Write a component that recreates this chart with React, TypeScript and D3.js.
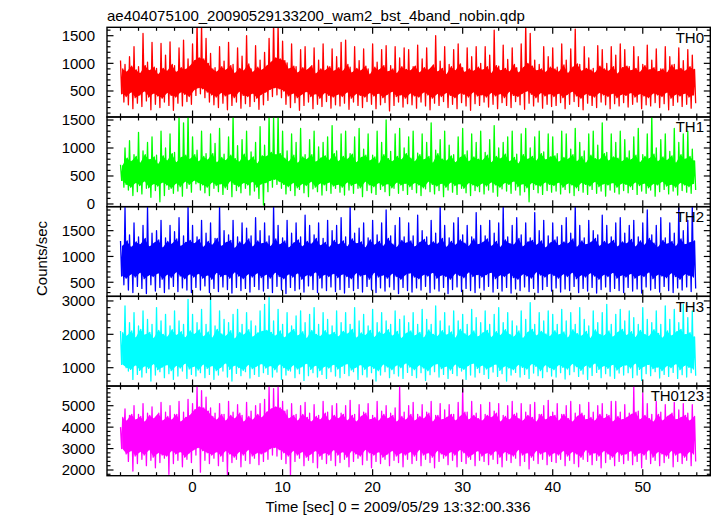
import React from "react";
import * as d3 from "d3";

const TITLE = "ae404075100_20090529133200_wam2_bst_4band_nobin.qdp";
const X_LABEL = "Time [sec] 0 = 2009/05/29 13:32:00.336";
const Y_LABEL = "Counts/sec";
const X_DOMAIN: [number, number] = [-9.5, 57.5];
const X_MAJOR = [0, 10, 20, 30, 40, 50];
const T0 = -8;
const DT = 0.5;

const panelNames = ["TH0", "TH1", "TH2", "TH3", "TH0123"];
const panelColors = ["#ff0000", "#00ff00", "#0000ff", "#00ffff", "#ff00ff"];
const panelDomains: [number, number][] = [[30, 1652], [-48, 1554], [227, 1965], [451, 3138], [1734, 5919]];
const panelTicks = [[500, 1000, 1500], [0, 500, 1000, 1500], [500, 1000, 1500], [1000, 2000, 3000], [2000, 3000, 4000, 5000]];
const panelMinor = [100, 100, 100, 200, 200];

// Each 0.5 s bin: upper excursion (hi), dip into band (midLo), rise in band (midHi), lower excursion (lo)

// TH0 (red)
const th0Hi = [
  1050, 980, 1120, 1300, 940, 1540, 1020, 1380, 910, 1360, 1150, 1390, 960, 1280, 1420, 1080,
  1350, 1750, 1700, 1450, 1180, 920, 1300, 1040, 1380, 980, 1280, 1130, 1500, 900, 1320, 1060,
  1200, 1450, 1750, 1700, 1400, 1010, 1350, 940, 1250, 1300, 880, 1280, 1060, 1350, 950, 1260,
  1120, 1380, 1420, 930, 1300, 1050, 1260, 900, 1350, 1020, 1250, 1320, 960, 1300, 1100, 1280,
  1250, 940, 1330, 1080, 1280, 900, 1500, 1040, 1300, 980, 1250, 1350, 920, 1280, 1120, 1300,
  1000, 1300, 1150, 1600, 950, 1330, 1070, 1280, 920, 1350, 1700, 1540, 1060, 980, 1300, 1120,
  1280, 930, 1350, 1060, 1260, 1620, 980, 1300, 1100, 910, 1320, 1250, 1000, 1300, 1150, 1350,
  1250, 940, 1300, 1120, 980, 1330, 1060, 1260, 900, 1300, 1120, 980, 1280, 1050, 1250, 1150,
];
const th0MidHi = [
  900, 850, 950, 880, 820, 960, 870, 930, 800, 910, 860, 980, 840, 920, 890, 950,
  1050, 1100, 1080, 1000, 900, 850, 940, 880, 960, 820, 910, 870, 990, 840, 930, 880,
  950, 1020, 1100, 1080, 1050, 900, 950, 830, 920, 880, 960, 810, 900, 870, 940, 860,
  920, 860, 980, 830, 910, 870, 950, 800, 930, 880, 960, 850, 900, 820, 940, 890,
  870, 950, 830, 920, 880, 970, 850, 910, 800, 940, 870, 990, 840, 900, 860, 930,
  880, 940, 820, 960, 870, 910, 850, 980, 830, 920, 1000, 950, 870, 900, 840, 930,
  900, 850, 970, 820, 930, 990, 860, 910, 880, 830, 950, 900, 860, 940, 810, 920,
  950, 870, 910, 840, 960, 880, 920, 850, 900, 830, 970, 880, 910, 860, 940, 890,
];
const th0MidLo = [
  450, 400, 480, 380, 430, 500, 390, 460, 410, 370, 470, 420, 390, 480, 440, 400,
  520, 560, 540, 480, 430, 390, 470, 410, 450, 380, 490, 420, 400, 460, 370, 440,
  480, 530, 560, 540, 500, 410, 460, 380, 440, 490, 400, 450, 370, 470, 420, 390,
  440, 400, 480, 370, 450, 420, 390, 470, 410, 460, 380, 440, 490, 400, 430, 370,
  460, 410, 390, 480, 430, 370, 450, 400, 470, 420, 380, 460, 440, 390, 480, 410,
  430, 390, 470, 410, 450, 380, 490, 420, 400, 460, 500, 440, 380, 470, 410, 450,
  400, 460, 380, 440, 490, 410, 370, 450, 420, 390, 470, 430, 400, 460, 380, 440,
  420, 470, 390, 450, 410, 380, 460, 430, 400, 480, 370, 440, 410, 460, 390, 430,
];
const th0Lo = [
  300, 250, 180, 280, 220, 320, 160, 260, 200, 300, 240, 150, 280, 230, 310, 260,
  420, 450, 380, 300, 250, 200, 280, 160, 240, 300, 190, 270, 220, 310, 170, 250,
  330, 400, 430, 380, 260, 200, 290, 150, 240, 300, 180, 260, 220, 310, 190, 250,
  230, 280, 170, 300, 240, 200, 310, 260, 180, 250, 290, 140, 240, 300, 210, 270,
  250, 190, 300, 230, 160, 280, 240, 310, 200, 260, 180, 290, 230, 150, 270, 240,
  300, 210, 260, 180, 290, 240, 200, 310, 250, 170, 280, 230, 300, 190, 260, 220,
  240, 290, 180, 260, 310, 220, 160, 280, 240, 200, 300, 250, 180, 270, 230, 290,
  210, 260, 300, 180, 250, 230, 290, 200, 270, 160, 240, 300, 220, 260, 190, 280,
];

// TH1 (green)
const th1Hi = [
  700, 1000, 1130, 880, 1280, 950, 1100, 1200, 870, 1300, 1000, 1250, 920, 1600, 1450, 1600,
  1200, 960, 1300, 900, 1250, 1080, 1350, 890, 1200, 1600, 1040, 1150, 1300, 930, 1100, 1380,
  1050, 1600, 1550, 1600, 1300, 950, 1250, 1100, 1350, 880, 1150, 1300, 1020, 1100, 1200, 1400,
  950, 1250, 1300, 900, 1200, 1350, 980, 1250, 870, 1300, 1100, 1500, 940, 1250, 1350, 1000,
  1200, 1300, 910, 1250, 1100, 1450, 960, 1150, 1300, 1050, 880, 1200, 1350, 950, 1250, 1100,
  1300, 920, 1150, 1400, 1000, 1100, 1200, 1300, 890, 1250, 1350, 1000, 1200, 1300, 930, 1250,
  1200, 900, 1300, 1250, 980, 1350, 1100, 950, 1250, 1300, 1050, 1450, 920, 1250, 1100, 1300,
  1150, 950, 1200, 1350, 880, 1250, 1600, 1000, 1150, 1250, 940, 1350, 1100, 1250, 1300, 980,
];
const th1MidHi = [
  680, 820, 760, 850, 730, 880, 790, 840, 710, 860, 770, 900, 740, 830, 870, 800,
  880, 760, 850, 790, 900, 740, 830, 780, 870, 810, 750, 890, 770, 840, 720, 860,
  850, 920, 880, 900, 820, 760, 870, 730, 840, 800, 880, 750, 820, 860, 780, 900,
  760, 850, 800, 890, 740, 830, 870, 770, 840, 720, 880, 810, 760, 850, 790, 900,
  820, 760, 880, 790, 850, 730, 900, 800, 770, 860, 740, 830, 880, 760, 840, 800,
  780, 870, 740, 850, 810, 890, 760, 830, 720, 880, 800, 850, 770, 900, 790, 840,
  860, 750, 830, 800, 880, 760, 850, 730, 870, 810, 790, 900, 770, 840, 820, 760,
  830, 790, 870, 740, 850, 810, 890, 760, 840, 780, 860, 730, 880, 800, 850, 770,
];
const th1MidLo = [
  420, 350, 300, 380, 330, 410, 290, 360, 320, 390, 340, 280, 370, 310, 400, 350,
  420, 380, 340, 300, 390, 330, 360, 290, 410, 350, 310, 380, 340, 400, 300, 360,
  380, 420, 440, 400, 350, 310, 380, 290, 360, 330, 400, 300, 370, 340, 390, 320,
  350, 300, 390, 330, 370, 290, 400, 340, 310, 380, 320, 360, 290, 390, 340, 370,
  310, 380, 340, 290, 400, 350, 320, 370, 300, 390, 330, 360, 280, 380, 340, 310,
  370, 320, 390, 340, 300, 380, 350, 410, 310, 360, 290, 380, 340, 320, 390, 350,
  330, 390, 300, 370, 340, 290, 380, 350, 320, 400, 310, 360, 340, 380, 300, 370,
  350, 310, 390, 330, 370, 290, 360, 340, 400, 320, 350, 300, 380, 340, 310, 370,
];
const th1Lo = [
  300, 250, 150, 220, 180, 280, 120, 240, 40, 150, 260, 190, 230, 140, 280, 210,
  360, 250, 200, 150, 280, 220, 170, 260, 130, 240, 200, 280, 160, 230, 100, -20,
  220, 300, 350, 280, 180, 240, 150, 260, 200, 130, 270, 220, 160, 240, 190, 280,
  210, 160, 250, 190, 280, 130, 240, 200, 170, 260, 220, 150, 280, 190, 240, 170,
  260, 200, 150, 270, 220, 180, 240, 130, 250, 210, 170, 280, 200, 150, 240, 220,
  180, 250, 210, 140, 270, 230, 190, 250, 160, 220, 40, 260, 200, 170, 240, 210,
  230, 180, 260, 200, 150, 240, 210, 170, 260, 190, 230, 140, 250, 210, 180, 240,
  200, 260, 170, 230, 190, 250, 140, 220, 260, 180, 230, 160, 240, 210, 190, 250,
];

// TH2 (blue)
const th2Hi = [
  1300, 1950, 1420, 1650, 1380, 1600, 1950, 1450, 1500, 1700, 1360, 1600, 1480, 1750, 1400, 1980,
  1600, 1380, 1700, 1450, 1650, 1350, 1980, 1500, 1420, 1700, 1380, 1650, 1550, 1400, 1750, 1500,
  1650, 1400, 1980, 1600, 1360, 1700, 1450, 1650, 1380, 1800, 1600, 1420, 1650, 1350, 1700, 1500,
  1600, 1750, 1380, 1980, 1450, 1550, 1650, 1360, 1700, 1420, 1650, 1900, 1400, 1600, 1750, 1380,
  1650, 1400, 1800, 1500, 1380, 1700, 1450, 1980, 1600, 1360, 1650, 1750, 1420, 1600, 1380, 1850,
  1600, 1400, 1700, 1450, 1650, 1980, 1380, 1600, 1750, 1420, 1650, 1360, 1850, 1500, 1700, 1400,
  1650, 1380, 1600, 1750, 1450, 1980, 1600, 1360, 1700, 1500, 1420, 1800, 1600, 1380, 1650, 1750,
  1450, 1600, 1700, 1380, 1650, 1900, 1420, 1600, 1750, 1360, 1650, 1450, 1980, 1500, 1700, 1980,
];
const th2MidHi = [
  1200, 1300, 1180, 1280, 1230, 1350, 1190, 1260, 1320, 1170, 1290, 1240, 1340, 1200, 1270, 1310,
  1250, 1330, 1180, 1290, 1220, 1350, 1200, 1270, 1310, 1160, 1280, 1230, 1340, 1190, 1300, 1250,
  1280, 1200, 1340, 1230, 1300, 1170, 1260, 1320, 1190, 1290, 1240, 1350, 1210, 1270, 1180, 1310,
  1230, 1300, 1190, 1340, 1250, 1280, 1170, 1320, 1220, 1290, 1200, 1350, 1240, 1180, 1310, 1260,
  1300, 1190, 1270, 1330, 1210, 1280, 1240, 1350, 1180, 1290, 1220, 1320, 1260, 1200, 1340, 1230,
  1270, 1340, 1200, 1290, 1180, 1320, 1250, 1230, 1350, 1190, 1280, 1310, 1220, 1300, 1170, 1260,
  1320, 1210, 1280, 1250, 1340, 1180, 1300, 1230, 1270, 1350, 1200, 1290, 1240, 1310, 1190, 1280,
  1250, 1330, 1190, 1300, 1220, 1350, 1260, 1180, 1310, 1240, 1290, 1200, 1340, 1230, 1270, 1300,
];
const th2MidLo = [
  620, 580, 660, 600, 690, 570, 640, 610, 680, 560, 650, 590, 700, 620, 570, 660,
  600, 670, 580, 640, 560, 690, 610, 650, 580, 700, 620, 570, 660, 600, 680, 590,
  650, 580, 690, 610, 570, 660, 600, 680, 560, 640, 620, 700, 580, 650, 610, 670,
  590, 660, 610, 570, 680, 620, 650, 560, 690, 600, 640, 580, 670, 610, 560, 650,
  680, 600, 570, 650, 620, 690, 580, 640, 610, 560, 670, 630, 590, 700, 610, 650,
  600, 650, 690, 570, 640, 610, 680, 590, 560, 660, 620, 580, 700, 640, 600, 670,
  630, 580, 660, 610, 690, 570, 640, 600, 680, 620, 560, 650, 610, 690, 580, 640,
  600, 670, 580, 640, 610, 700, 570, 650, 620, 590, 680, 610, 560, 660, 630, 600,
];
const th2Lo = [
  450, 350, 300, 420, 380, 280, 450, 330, 400, 300, 370, 420, 320, 390, 350, 300,
  400, 350, 430, 300, 380, 320, 410, 360, 290, 400, 340, 380, 310, 420, 360, 330,
  380, 300, 420, 350, 280, 400, 340, 370, 310, 430, 360, 300, 390, 340, 410, 320,
  360, 290, 400, 340, 380, 310, 420, 350, 300, 390, 330, 410, 360, 280, 400, 340,
  310, 390, 350, 420, 300, 370, 330, 400, 280, 360, 410, 320, 380, 340, 300, 390,
  350, 420, 310, 380, 330, 400, 290, 370, 340, 410, 320, 380, 300, 360, 420, 330,
  390, 310, 370, 340, 420, 300, 380, 330, 400, 290, 360, 410, 320, 380, 340, 300,
  400, 330, 370, 290, 410, 350, 380, 310, 420, 340, 300, 390, 350, 410, 320, 380,
];

// TH3 (cyan)
const th3Hi = [
  2100, 2850, 2350, 2650, 2250, 2700, 2450, 2300, 2800, 2400, 2600, 2250, 2700, 2400, 2300, 3050,
  2600, 2350, 2750, 2300, 3050, 2250, 2700, 2450, 2350, 2600, 2750, 2300, 2650, 2400, 2250, 2700,
  2900, 3100, 2400, 2750, 2300, 2650, 2250, 2550, 2700, 2350, 2600, 2800, 2300, 2650, 2450, 2250,
  2700, 2350, 2650, 2300, 2800, 2400, 2600, 2250, 2750, 2350, 2650, 2400, 2300, 2700, 2450, 2550,
  2350, 2650, 2300, 2750, 2450, 2300, 2850, 2400, 2650, 2250, 2700, 2400, 2600, 2300, 2750, 2500,
  2350, 2700, 2300, 2600, 2800, 2350, 2650, 2400, 2250, 2700, 2450, 2950, 2300, 2650, 2400, 2700,
  2600, 2300, 2750, 2400, 2650, 2300, 2800, 2450, 2250, 2700, 2350, 2650, 2900, 2300, 2600, 2750,
  2400, 2700, 2500, 2300, 2800, 2450, 2350, 2700, 2300, 2850, 2450, 2750, 2350, 2900, 2500, 2700,
];
const th3MidHi = [
  2050, 1950, 2100, 1900, 2150, 1980, 2060, 1880, 2120, 2000, 1920, 2140, 1970, 2080, 1900, 2100,
  2000, 2130, 1930, 2070, 1890, 2150, 2010, 1950, 2110, 1870, 2060, 1990, 2140, 1920, 2040, 2090,
  2120, 2060, 1950, 2100, 1900, 2030, 2150, 1960, 2080, 1880, 2120, 2000, 1940, 2110, 1980, 2060,
  1930, 2090, 2010, 2150, 1890, 2040, 1970, 2120, 1910, 2070, 2000, 2140, 1950, 2090, 1880, 2030,
  2100, 1960, 2060, 1900, 2130, 2000, 1940, 2110, 1980, 2070, 1890, 2150, 2020, 1950, 2100, 1930,
  2040, 2120, 1910, 2080, 1970, 2140, 2000, 1930, 2100, 1880, 2060, 2150, 1960, 2090, 2010, 1940,
  2110, 1990, 2070, 1900, 2140, 2020, 1950, 2090, 1880, 2130, 2000, 1960, 2100, 1920, 2060, 2150,
  1970, 2080, 1910, 2120, 2000, 1940, 2140, 2030, 1890, 2100, 1960, 2070, 2150, 1990, 2050, 1920,
];
const th3MidLo = [
  1100, 1000, 950, 1080, 920, 1050, 980, 1120, 940, 1020, 1090, 910, 1060, 990, 1130, 960,
  1040, 930, 1100, 980, 1060, 910, 1010, 1140, 950, 1070, 1000, 920, 1090, 970, 1050, 1120,
  990, 1060, 940, 1110, 1000, 920, 1080, 960, 1030, 1130, 950, 1070, 910, 1040, 990, 1100,
  960, 1050, 1120, 930, 1010, 1090, 950, 1060, 980, 910, 1100, 1020, 940, 1080, 1000, 1140,
  1020, 940, 1080, 990, 910, 1060, 1120, 970, 1040, 930, 1100, 1000, 950, 1070, 1130, 980,
  1070, 960, 1030, 1110, 920, 1050, 990, 940, 1090, 1010, 960, 1120, 1040, 910, 1080, 1000,
  940, 1090, 1010, 960, 1120, 1030, 920, 1070, 1000, 1140, 950, 1060, 980, 1100, 930, 1040,
  1080, 990, 1130, 950, 1040, 1100, 970, 1020, 910, 1060, 1000, 1120, 940, 1070, 1010, 960,
];
const th3Lo = [
  1100, 900, 650, 800, 720, 850, 600, 780, 880, 700, 820, 650, 750, 900, 680, 800,
  750, 850, 700, 800, 650, 780, 900, 720, 600, 830, 760, 880, 690, 800, 740, 850,
  800, 720, 870, 650, 780, 900, 700, 820, 620, 760, 850, 720, 800, 680, 880, 750,
  700, 830, 760, 880, 650, 790, 720, 850, 600, 780, 880, 700, 820, 750, 680, 860,
  770, 700, 850, 620, 790, 880, 720, 800, 680, 830, 760, 900, 650, 780, 720, 850,
  800, 680, 870, 740, 820, 600, 780, 860, 720, 800, 680, 840, 760, 700, 880, 750,
  720, 850, 660, 790, 880, 740, 810, 650, 770, 860, 700, 820, 750, 680, 840, 780,
  850, 700, 780, 620, 820, 760, 880, 690, 800, 740, 860, 680, 790, 720, 850, 760,
];

// TH0123 (magenta)
const th0123Hi = [
  4000, 4850, 4550, 5000, 4600, 5100, 4650, 4950, 4500, 5150, 4700, 5000, 4600, 5200, 4700, 5300,
  5100, 5900, 5700, 5400, 4900, 4650, 5100, 4600, 5200, 4700, 5050, 4550, 5150, 4750, 5000, 5100,
  5300, 5900, 5800, 5900, 5200, 4800, 5100, 4600, 5000, 5150, 4650, 5050, 4550, 5200, 4700, 5000,
  5100, 4650, 5000, 5250, 4600, 5050, 4700, 5100, 4550, 5200, 4750, 5000, 4650, 4900, 5900, 4700,
  5000, 5150, 4600, 5050, 4700, 5200, 4550, 5100, 4800, 5050, 4600, 5150, 5800, 4700, 5200, 4650,
  5050, 4600, 5150, 4750, 5100, 4550, 5000, 5200, 4650, 5100, 4700, 5050, 5150, 4600, 5000, 5250,
  4700, 5100, 4600, 5000, 5200, 4650, 5050, 4550, 5150, 4700, 5000, 5100, 4600, 5200, 5200, 4700,
  5050, 4650, 5900, 4750, 5600, 5100, 4600, 5200, 4700, 5050, 4550, 5150, 4800, 5100, 4650, 5050,
];
const th0123MidHi = [
  4450, 4300, 4600, 4350, 4500, 4250, 4550, 4400, 4650, 4300, 4500, 4350, 4600, 4250, 4450, 4550,
  4800, 4950, 4900, 4750, 4500, 4350, 4600, 4300, 4550, 4400, 4650, 4250, 4500, 4350, 4600, 4450,
  4700, 4850, 4950, 4900, 4750, 4400, 4550, 4300, 4600, 4450, 4250, 4500, 4350, 4650, 4300, 4550,
  4400, 4600, 4300, 4550, 4250, 4500, 4650, 4350, 4450, 4300, 4600, 4400, 4550, 4250, 4500, 4350,
  4600, 4300, 4500, 4400, 4650, 4250, 4550, 4350, 4450, 4600, 4300, 4500, 4700, 4350, 4550, 4400,
  4300, 4550, 4450, 4650, 4250, 4500, 4350, 4600, 4400, 4300, 4550, 4450, 4250, 4600, 4350, 4500,
  4550, 4300, 4600, 4400, 4250, 4500, 4650, 4350, 4450, 4300, 4600, 4400, 4550, 4250, 4500, 4350,
  4450, 4600, 4700, 4350, 4550, 4400, 4250, 4600, 4300, 4500, 4650, 4350, 4450, 4550, 4300, 4500,
];
const th0123MidLo = [
  3000, 2750, 2900, 2650, 2850, 2700, 2950, 2600, 2800, 2700, 2650, 2900, 2750, 2850, 2600, 2800,
  2950, 3050, 2900, 2800, 2700, 2850, 2650, 2900, 2750, 2600, 2850, 2700, 2950, 2650, 2800, 2750,
  2850, 3000, 3050, 2950, 2800, 2650, 2900, 2700, 2850, 2600, 2750, 2900, 2650, 2800, 2700, 2950,
  2700, 2850, 2600, 2900, 2750, 2650, 2950, 2800, 2700, 2850, 2600, 2750, 2900, 2650, 2800, 2700,
  2850, 2650, 2950, 2700, 2800, 2600, 2900, 2750, 2650, 2850, 2700, 2950, 2800, 2600, 2750, 2900,
  2650, 2800, 2700, 2900, 2600, 2850, 2750, 2650, 2950, 2700, 2800, 2600, 2900, 2750, 2850, 2650,
  2800, 2700, 2900, 2650, 2850, 2750, 2600, 2950, 2700, 2800, 2650, 2900, 2750, 2600, 2850, 2700,
  2750, 2900, 2650, 2800, 2700, 2950, 2600, 2850, 2750, 2650, 2900, 2700, 2800, 2600, 2850, 2750,
];
const th0123Lo = [
  3500, 2400, 1950, 2300, 2500, 2200, 2450, 2100, 2350, 2550, 1800, 2300, 2450, 2150, 2500, 2350,
  2700, 1900, 2450, 2300, 2550, 2200, 2400, 1750, 2350, 2500, 2150, 2450, 2300, 2550, 2250, 2400,
  2500, 2700, 2650, 2500, 2300, 1750, 2400, 2550, 2200, 2450, 2350, 2100, 2500, 2300, 2450, 2200,
  2350, 2500, 2150, 2400, 2550, 2250, 2450, 2100, 2400, 2300, 2500, 2200, 2450, 2350, 2150, 2500,
  2300, 2450, 2200, 2500, 2350, 2100, 2400, 2550, 2250, 2450, 2150, 2400, 2300, 2500, 2200, 2450,
  2400, 2250, 2500, 2300, 2150, 2450, 2350, 2550, 2200, 2400, 2050, 2450, 2300, 2500, 2250, 2400,
  2350, 2500, 2200, 2450, 2300, 2150, 2500, 2400, 2250, 2450, 2100, 2350, 2500, 2200, 2400, 2300,
  2450, 2250, 2400, 2100, 2500, 2300, 2450, 2200, 2350, 2550, 2150, 2400, 2300, 2450, 2200, 2400,
];

const seriesHi = [th0Hi, th1Hi, th2Hi, th3Hi, th0123Hi];
const seriesMidLo = [th0MidLo, th1MidLo, th2MidLo, th3MidLo, th0123MidLo];
const seriesMidHi = [th0MidHi, th1MidHi, th2MidHi, th3MidHi, th0123MidHi];
const seriesLo = [th0Lo, th1Lo, th2Lo, th3Lo, th0123Lo];

const W = 717;
const H = 516;
const LEFT = 107;
const RIGHT = 710.3;
const TOP = 27.3;
const BOTTOM = 475.7;
const FONT = "'Liberation Sans', Arial, Helvetica, sans-serif";

export default function App() {
  const x = d3.scaleLinear().domain(X_DOMAIN).range([LEFT, RIGHT]);
  const ph = (BOTTOM - TOP) / 5;
  const xMinor = d3.range(-8, 57, 2).filter((t) => t % 10 !== 0);

  return (
    <svg width={W} height={H} style={{ position: "absolute", left: 0, top: 0, background: "#fff" }} fontFamily={FONT}>
      <rect x={0} y={0} width={W} height={H} fill="#fff" />
      <text x={107} y={20.5} fontSize={15} fill="#000">{TITLE}</text>
      {panelNames.map((name, p) => {
        const top = TOP + p * ph;
        const bot = top + ph;
        const [d0, d1] = panelDomains[p];
        const y = d3.scaleLinear().domain([d0, d1]).range([bot, top]);
        const hi = seriesHi[p];
        const mLo = seriesMidLo[p];
        const mHi = seriesMidHi[p];
        const lo = seriesLo[p];
        const pts: [number, number][] = [];
        hi.forEach((v, i) => {
          const t = T0 + DT * i;
          pts.push([t, v]);
          pts.push([t + DT * 0.25, mLo[i]]);
          pts.push([t + DT * 0.5, mHi[i]]);
          pts.push([t + DT * 0.75, lo[i]]);
        });
        const line = d3.line<[number, number]>().x((d) => x(d[0])).y((d) => y(d[1]));
        const idx = d3.range(hi.length);
        const band = d3
          .area<number>()
          .x((i) => x(T0 + DT * i + DT * 0.375))
          .y0((i) => y(mLo[i]))
          .y1((i) => y(mHi[i]));
        const minor = d3.range(Math.ceil(d0 / panelMinor[p]) * panelMinor[p], d1, panelMinor[p]);
        const clipId = `clip${p}`;
        return (
          <g key={name}>
            <clipPath id={clipId}>
              <rect x={LEFT} y={top} width={RIGHT - LEFT} height={ph} />
            </clipPath>
            <g clipPath={`url(#${clipId})`}>
              <path d={band(idx) || ""} fill={panelColors[p]} />
              <path d={line(pts) || ""} fill="none" stroke={panelColors[p]} strokeWidth={1.3} strokeLinejoin="round" />
            </g>
            {minor.map((v) => {
              const major = panelMinor[p] === 100 ? v % 500 === 0 : v % 1000 === 0;
              const len = major ? 6.5 : 3.5;
              return (
                <g key={"y" + v} stroke="#000" strokeWidth={1.2}>
                  <line x1={LEFT} x2={LEFT + len} y1={y(v)} y2={y(v)} />
                  <line x1={RIGHT} x2={RIGHT - len} y1={y(v)} y2={y(v)} />
                </g>
              );
            })}
            {xMinor.map((t) => (
              <g key={"xm" + t} stroke="#000" strokeWidth={1.2}>
                <line x1={x(t)} x2={x(t)} y1={top} y2={top + 3.5} />
                <line x1={x(t)} x2={x(t)} y1={bot} y2={bot - 3.5} />
              </g>
            ))}
            {X_MAJOR.map((t) => (
              <g key={"xM" + t} stroke="#000" strokeWidth={1.2}>
                <line x1={x(t)} x2={x(t)} y1={top} y2={top + 6.5} />
                <line x1={x(t)} x2={x(t)} y1={bot} y2={bot - 6.5} />
              </g>
            ))}
            {panelTicks[p].map((v) => (
              <text key={"yl" + v} x={95} y={y(v)} dy="0.36em" textAnchor="end" fontSize={15} fill="#000">
                {v}
              </text>
            ))}
            <text x={704} y={top + 15.4} textAnchor="end" fontSize={15} fill="#000">{name}</text>
            <rect x={LEFT} y={top} width={RIGHT - LEFT} height={ph} fill="none" stroke="#000" strokeWidth={1.4} />
          </g>
        );
      })}
      {X_MAJOR.map((t) => (
        <text key={"xl" + t} x={x(t)} y={492.3} textAnchor="middle" fontSize={15} fill="#000">{t}</text>
      ))}
      <text x={398} y={511.5} textAnchor="middle" fontSize={15} fill="#000">{X_LABEL}</text>
      <text transform="translate(46.5,258.5) rotate(-90)" textAnchor="middle" fontSize={15} fill="#000">{Y_LABEL}</text>
    </svg>
  );
}
